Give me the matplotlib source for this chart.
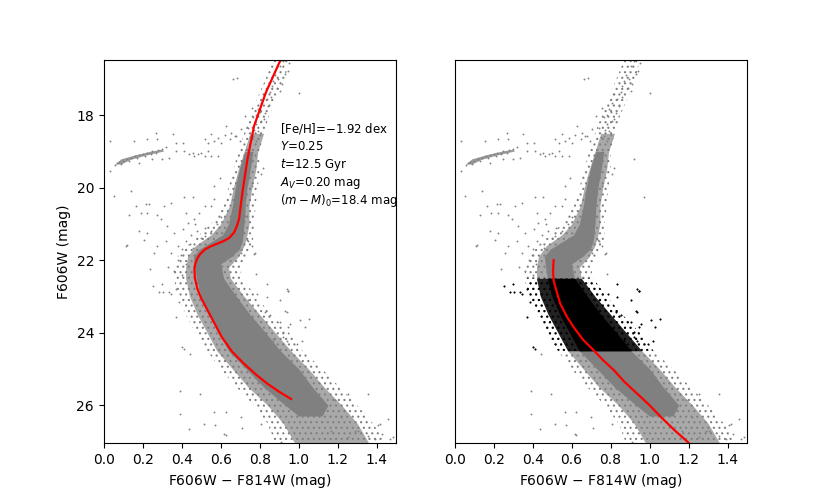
import numpy as np
import matplotlib
matplotlib.use("Agg")
import matplotlib.pyplot as plt

# solid ridge of the main sequence / RGB (colour limits per magnitude)
core_mag = [19.0, 19.4, 20.0, 20.5, 21.0, 21.3, 21.5, 21.7, 21.9, 22.1, 22.5, 23.0,
            23.5, 24.0, 24.5, 25.0, 25.5, 26.0, 26.3]
core_blue = [0.725, 0.70, 0.675, 0.66, 0.64, 0.61, 0.55, 0.49, 0.46, 0.465, 0.475, 0.50,
             0.54, 0.59, 0.64, 0.73, 0.82, 0.93, 1.0]
core_red = [0.765, 0.755, 0.735, 0.725, 0.72, 0.715, 0.71, 0.695, 0.655, 0.60, 0.615, 0.68,
            0.75, 0.83, 0.905, 1.0, 1.07, 1.15, 1.12]

# densely populated zone around the ridge
inner_mag = [18.5, 19.0, 19.5, 20.0, 20.5, 21.0, 21.3, 21.6, 21.9, 22.2, 22.5, 23.0,
             23.5, 24.0, 24.5, 25.0, 25.5, 26.0, 26.5, 27.05]
inner_blue = [0.75, 0.72, 0.69, 0.665, 0.645, 0.60, 0.55, 0.47, 0.43, 0.42, 0.42, 0.44,
              0.48, 0.53, 0.58, 0.66, 0.74, 0.84, 0.92, 0.98]
inner_red = [0.82, 0.79, 0.78, 0.76, 0.745, 0.745, 0.735, 0.72, 0.69, 0.64, 0.65, 0.72,
             0.80, 0.88, 0.96, 1.05, 1.13, 1.22, 1.30, 1.36]

# thin outer envelope
halo_mag = [16.45, 17.0, 17.5, 18.0, 18.5, 19.0, 19.5, 20.0, 20.5, 21.0, 21.3, 21.6,
            21.9, 22.2, 22.5, 23.0, 23.5, 24.0, 24.5, 25.0, 25.5, 26.0, 26.5, 27.05]
halo_blue = [0.87, 0.83, 0.79, 0.755, 0.72, 0.69, 0.665, 0.64, 0.61, 0.55, 0.49, 0.43,
             0.38, 0.36, 0.36, 0.38, 0.42, 0.47, 0.53, 0.60, 0.68, 0.77, 0.84, 0.88]
halo_red = [0.95, 0.93, 0.89, 0.85, 0.82, 0.80, 0.80, 0.79, 0.78, 0.77, 0.77, 0.76,
            0.73, 0.70, 0.71, 0.78, 0.86, 0.95, 1.02, 1.12, 1.21, 1.30, 1.38, 1.45]

# horizontal branch clump outline
hb_color = [0.06, 0.09, 0.16, 0.24, 0.30, 0.31, 0.22, 0.14, 0.09]
hb_mag = [19.36, 19.22, 19.11, 19.01, 18.95, 19.00, 19.11, 19.23, 19.36]

# individual sparse stars
star_color = [
    0.904, 0.93, 0.943, 0.895, 0.912, 0.861, 0.904, 0.852, 0.818, 0.835, 0.809, 0.844, 0.792,
    0.826, 0.758, 0.723, 0.766, 0.809, 0.783, 0.74, 0.792, 0.766, 0.783, 0.663, 0.685, 1.004,
    0.706, 0.671, 0.628, 0.654, 0.92, 0.95, 0.88, 0.87, 0.89, 0.86, 0.80, 0.82, 0.78, 0.77,
    0.80, 0.75,
    0.551, 0.585, 0.62, 0.517, 0.534, 0.603, 0.646, 0.68, 0.568, 0.697,
    0.034, 0.155, 0.224, 0.267, 0.275, 0.353, 0.405, 0.37, 0.318, 0.336, 0.301, 0.25, 0.181,
    0.034, 0.37, 0.413, 0.439, 0.465, 0.482, 0.517, 0.551, 0.499, 0.585, 0.456, 0.534,
    0.07, 0.08, 0.10, 0.12, 0.14, 0.16, 0.18, 0.20, 0.22, 0.25, 0.28, 0.30, 0.09, 0.13, 0.17,
    0.21, 0.24, 0.27, 0.06,
    0.052, 0.138, 0.164, 0.215, 0.232, 0.129, 0.189, 0.224, 0.275, 0.31, 0.344, 0.413, 0.456,
    0.568, 0.594, 0.517, 0.551, 0.422, 0.491, 0.181, 0.224, 0.207, 0.293, 0.327, 0.362, 0.405,
    0.43, 0.465, 0.275, 0.318, 0.379, 0.422, 0.112, 0.258, 0.344, 0.396, 0.973, 0.921, 0.818,
    0.809, 0.758, 0.723, 0.74, 0.758, 0.706, 0.775, 0.568, 0.517,
    0.45, 0.48, 0.50, 0.44, 0.40, 0.46, 0.38, 0.42, 0.36, 0.40, 0.33, 0.52, 0.55, 0.47, 0.58,
    0.60,
    0.117, 0.238, 0.255, 0.298, 0.306, 0.41, 0.444, 0.393, 0.496, 0.393, 0.436, 0.513, 0.565,
    0.625, 0.702, 0.771, 0.78, 0.944, 1.055, 1.03, 0.737, 0.685, 0.616, 1.185, 1.254, 1.357,
    1.417, 1.46, 1.486, 1.305, 1.219, 1.254, 1.167,
    0.573, 0.625, 0.71, 0.806, 0.909, 1.409, 1.426, 1.469, 1.391, 1.357, 1.288,
    0.938, 0.835, 0.826, 0.852, 0.938, 0.955, 0.904, 0.921, 0.87, 0.938, 0.99, 0.787, 0.344,
    0.37, 0.404, 0.741, 0.284, 0.336, 0.37, 0.387, 0.835, 0.904, 0.947, 0.93, 1.007, 0.947,
    0.869, 0.921, 1.016,
]
star_mag = [
    16.64, 16.87, 16.78, 17.0, 17.14, 17.19, 17.33, 17.37, 17.42, 17.56, 17.65, 17.74, 17.83,
    17.93, 17.79, 18.02, 18.06, 18.16, 18.25, 18.34, 18.43, 18.57, 18.71, 16.99, 16.96, 17.40,
    18.39, 18.57, 18.3, 18.48, 16.5, 16.55, 16.9, 17.05, 17.25, 17.5, 17.9, 18.1, 18.0, 18.4,
    18.55, 18.6,
    18.52, 18.62, 18.55, 18.66, 18.76, 18.76, 18.66, 18.57, 18.71, 18.71,
    18.71, 18.71, 18.66, 18.48, 18.66, 18.53, 18.76, 18.76, 18.89, 19.17, 19.22, 19.22, 19.31,
    19.54, 18.99, 18.99, 19.08, 19.12, 19.08, 19.12, 19.12, 19.03, 19.12, 19.03, 18.99,
    19.33, 19.28, 19.25, 19.2, 19.17, 19.13, 19.1, 19.07, 19.04, 19.0, 18.97, 18.93, 19.35,
    19.25, 19.18, 19.12, 19.08, 19.03, 19.38,
    20.23, 20.09, 20.5, 20.46, 20.46, 20.74, 20.69, 20.69, 20.74, 20.5, 20.41, 20.27, 20.27,
    19.95, 19.72, 20.5, 20.5, 20.69, 20.69, 21.2, 21.24, 21.43, 20.87, 21.06, 21.24, 21.15,
    20.97, 20.87, 21.61, 21.47, 21.61, 21.47, 21.61, 21.79, 21.79, 21.87, 20.27, 19.22, 19.45,
    19.63, 19.95, 20.78, 21.47, 21.61, 21.79, 21.79, 20.32, 21.33,
    21.3, 21.2, 21.4, 21.55, 21.7, 21.65, 22.0, 22.1, 22.3, 22.4, 22.2, 21.1, 21.2, 21.0, 21.0,
    20.8,
    21.59, 22.24, 22.70, 22.65, 22.88, 24.45, 24.58, 25.6, 25.69, 26.24, 26.66, 26.52, 26.2,
    26.2, 26.33, 21.82, 22.37, 22.84, 23.62, 23.85, 21.45, 21.73, 26.79, 25.87, 25.69, 25.69,
    26.52, 26.38, 26.89, 26.7, 26.33, 26.89, 26.7,
    26.54, 26.81, 26.63, 26.52, 27.02, 26.56, 26.79, 26.93, 26.93, 26.84, 26.7,
    22.79, 22.65, 23.43, 23.52, 23.43, 23.76, 23.71, 23.99, 24.17, 24.22, 24.31, 22.93, 22.93,
    23.57, 24.4, 23.11, 22.88, 22.88, 22.79, 23.16, 23.02, 23.11, 22.84, 23.39, 23.66, 23.85,
    24.22, 24.12, 24.22,
]

# isochrone (left) and fiducial line (right)
iso_color = [0.909, 0.832, 0.771, 0.737, 0.711, 0.694, 0.680, 0.668, 0.645, 0.616, 0.580,
             0.548, 0.520, 0.496, 0.480, 0.470, 0.465, 0.468, 0.480, 0.500, 0.551, 0.605,
             0.658, 0.720, 0.780, 0.840, 0.900, 0.961]
iso_mag = [16.45, 17.37, 18.30, 19.22, 20.14, 20.87, 21.10, 21.24, 21.38, 21.47, 21.55,
           21.62, 21.70, 21.82, 21.95, 22.08, 22.25, 22.50, 22.78, 23.05, 23.57, 24.12,
           24.52, 24.86, 25.15, 25.41, 25.63, 25.83]
fid_color = [0.508, 0.505, 0.508, 0.525, 0.542, 0.575, 0.611, 0.660, 0.714, 0.760, 0.818,
             0.870, 0.938, 1.000, 1.059, 1.130, 1.197, 1.210]
fid_mag = [22.0, 22.3, 22.56, 22.9, 23.2, 23.55, 23.85, 24.2, 24.49, 24.75, 25.04, 25.35,
           25.69, 26.0, 26.33, 26.7, 27.02, 27.1]

params = [r'[Fe/H]=$-$1.92 dex', r'$Y$=0.25', r'$t$=12.5 Gyr', r'$A_V$=0.20 mag',
          r'$(m-M)_0$=18.4 mag']

sel_lo, sel_hi = 22.5, 24.5

plt.rcParams['hatch.linewidth'] = 0.8

fig, (ax1, ax2) = plt.subplots(1, 2, figsize=(8.3, 4.98), dpi=100)

star_color = np.array(star_color)
star_mag = np.array(star_mag)
core_mag = np.array(core_mag)
inner_mag = np.array(inner_mag)
halo_mag = np.array(halo_mag)


def band(ax, mag, blue, red, color, alpha=1.0, hatch=None, mask=None):
    blue = np.array(blue)
    red = np.array(red)
    if mask is not None:
        mag, blue, red = mag[mask], blue[mask], red[mask]
    if hatch is None:
        ax.fill_betweenx(mag, blue, red, color=color, alpha=alpha, linewidth=0)
    else:
        ax.fill_betweenx(mag, blue, red, facecolor='none', edgecolor=color,
                         hatch=hatch, linewidth=0)


def draw_cluster(ax, color='gray', sel=False):
    hm = im = cm = sm = None
    if sel:
        hm = (halo_mag >= sel_lo) & (halo_mag <= sel_hi)
        im = (inner_mag >= sel_lo) & (inner_mag <= sel_hi)
        cm = (core_mag >= sel_lo) & (core_mag <= sel_hi)
        sm = (star_mag >= sel_lo) & (star_mag <= sel_hi)
    band(ax, halo_mag, halo_blue, halo_red, color, hatch='...', mask=hm)
    band(ax, inner_mag, inner_blue, inner_red, color, alpha=0.8 if sel else 0.68, mask=im)
    band(ax, core_mag, core_blue, core_red, color, mask=cm)
    if sel:
        ax.scatter(star_color[sm], star_mag[sm], s=2, c=color, linewidths=0)
    else:
        ax.fill(hb_color, hb_mag, color=color, alpha=0.8, linewidth=0)
        ax.scatter(star_color, star_mag, s=1.8, c=color, linewidths=0)


draw_cluster(ax1)
ax1.plot(iso_color, iso_mag, color='red', lw=1.6)
for i, txt in enumerate(params):
    ax1.text(0.905, 18.36 + 0.5 * i, txt, fontsize=8.5, va='center', ha='left')

draw_cluster(ax2)
draw_cluster(ax2, color='black', sel=True)
ax2.plot(fid_color, fid_mag, color='red', lw=1.6)

for ax in (ax1, ax2):
    ax.set_xlim(0, 1.5)
    ax.set_ylim(27.05, 16.47)
    ax.set_xticks([0.0, 0.2, 0.4, 0.6, 0.8, 1.0, 1.2, 1.4])
    ax.set_xlabel(r'F606W $-$ F814W (mag)')
ax1.set_yticks([18, 20, 22, 24, 26])
ax1.set_ylabel('F606W (mag)')
ax2.set_yticks([])

fig.savefig('out.png', dpi=100)
